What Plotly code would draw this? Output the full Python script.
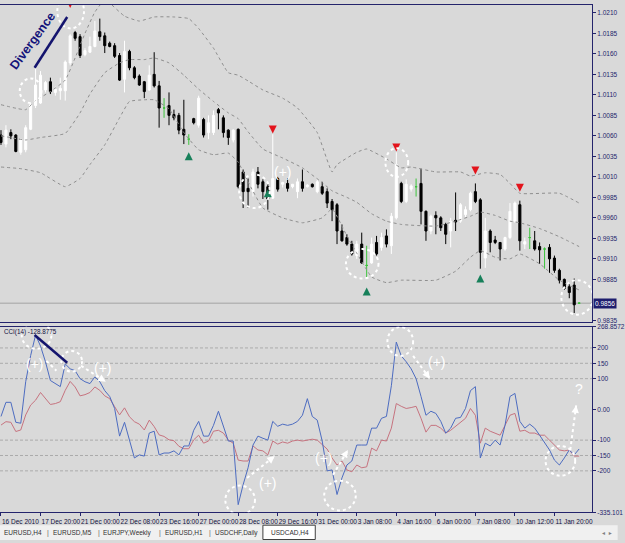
import plotly.graph_objects as go

# ---------------- data ----------------
time_labels = ["16 Dec 2010", "17 Dec 20:00", "21 Dec 00:00", "22 Dec 08:00", "23 Dec 16:00",
               "27 Dec 00:00", "28 Dec 08:00", "29 Dec 16:00", "31 Dec 00:00", "3 Jan 08:00",
               "4 Jan 16:00", "6 Jan 00:00", "7 Jan 08:00", "10 Jan 12:00", "11 Jan 20:00"]
time_label_bars = [0, 8, 16, 24, 32, 40, 48, 56, 64, 72, 80, 88, 96, 104, 112]

opens = [
    1.0061, 1.0050, 1.0064, 1.0061, 1.0040, 1.0043, 1.0068, 1.0097, 1.0100, 1.0116,
    1.0126, 1.0113, 1.0115, 1.0115, 1.0149, 1.0186, 1.0181, 1.0159, 1.0162, 1.0169,
    1.0187, 1.0182, 1.0173, 1.0170, 1.0158, 1.0129, 1.0163, 1.0143, 1.0133, 1.0126,
    1.0116, 1.0135, 1.0121, 1.0094, 1.0097, 1.0086, 1.0085, 1.0068, 1.0056, 1.0081,
    1.0073, 1.0080, 1.0064, 1.0064, 1.0092, 1.0082, 1.0067, 1.0055, 1.0068, 1.0016,
    0.9996, 0.9992, 1.0016, 1.0004, 0.9998, 0.9984, 1.0008, 1.0001, 1.0002, 0.9998,
    0.9992, 1.0004, 0.9998, 1.0001, 0.9992, 0.9998, 0.9992, 0.9980, 0.9976, 0.9944,
    0.9936, 0.9928, 0.9914, 0.9928, 0.9902, 0.9905, 0.9930, 0.9924, 0.9938, 0.9926,
    0.9960, 1.0002, 0.9980, 0.9995, 0.9998, 1.0002, 0.9968, 0.9944, 0.9963, 0.9960,
    0.9952, 0.9944, 0.9957, 0.9956, 0.9964, 0.9970, 0.9992, 0.9982, 0.9911, 0.9944,
    0.9933, 0.9930, 0.9922, 0.9936, 0.9956, 0.9976, 0.9928, 0.9936, 0.9932, 0.9925,
    0.9922, 0.9924, 0.9911, 0.9896, 0.9885, 0.9876, 0.9878, 0.9856]
highs = [
    1.0067, 1.0073, 1.0068, 1.0062, 1.0057, 1.0073, 1.0100, 1.0143, 1.0139, 1.0127,
    1.0131, 1.0120, 1.0131, 1.0152, 1.0184, 1.0188, 1.0184, 1.0167, 1.0181, 1.0200,
    1.0203, 1.0186, 1.0175, 1.0173, 1.0161, 1.0176, 1.0165, 1.0145, 1.0135, 1.0127,
    1.0146, 1.0162, 1.0127, 1.0106, 1.0113, 1.0092, 1.0088, 1.0104, 1.0062, 1.0082,
    1.0109, 1.0082, 1.0085, 1.0091, 1.0094, 1.0085, 1.0068, 1.0068, 1.0069, 1.0019,
    1.0008, 1.0020, 1.0022, 1.0007, 1.0001, 1.0062, 1.0010, 1.0004, 1.0008, 1.0001,
    1.0008, 1.0019, 1.0001, 1.0002, 1.0007, 1.0004, 0.9996, 0.9983, 0.9978, 0.9952,
    0.9940, 0.9932, 0.9932, 0.9942, 0.9926, 0.9936, 0.9938, 0.9942, 0.9946, 0.9966,
    1.0040, 1.0004, 1.0007, 1.0001, 1.0008, 1.0020, 0.9969, 0.9964, 0.9968, 0.9962,
    0.9954, 0.9960, 0.9991, 0.9978, 0.9974, 0.9992, 1.0002, 0.9984, 0.9960, 0.9946,
    0.9938, 0.9930, 0.9937, 0.9978, 0.9980, 0.9981, 0.9936, 0.9948, 0.9944, 0.9930,
    0.9924, 0.9928, 0.9914, 0.9898, 0.9886, 0.9879, 0.9886, 0.9857]
lows = [
    1.0049, 1.0046, 1.0056, 1.0040, 1.0037, 1.0040, 1.0067, 1.0094, 1.0099, 1.0113,
    1.0111, 1.0109, 1.0104, 1.0103, 1.0146, 1.0176, 1.0155, 1.0157, 1.0161, 1.0168,
    1.0176, 1.0161, 1.0168, 1.0155, 1.0127, 1.0113, 1.0140, 1.0129, 1.0121, 1.0106,
    1.0115, 1.0119, 1.0070, 1.0082, 1.0073, 1.0079, 1.0062, 1.0050, 1.0049, 1.0074,
    1.0070, 1.0058, 1.0056, 1.0061, 1.0068, 1.0058, 1.0049, 1.0052, 0.9996, 0.9972,
    0.9972, 0.9986, 0.9996, 0.9983, 0.9970, 0.9983, 0.9992, 0.9997, 0.9992, 0.9996,
    0.9984, 0.9992, 0.9997, 0.9997, 0.9990, 0.9988, 0.9972, 0.9956, 0.9928, 0.9931,
    0.9926, 0.9914, 0.9910, 0.9904, 0.9887, 0.9904, 0.9914, 0.9920, 0.9924, 0.9916,
    0.9958, 0.9978, 0.9978, 0.9992, 0.9986, 0.9952, 0.9932, 0.9940, 0.9940, 0.9944,
    0.9928, 0.9924, 0.9944, 0.9954, 0.9961, 0.9968, 0.9978, 0.9898, 0.9899, 0.9918,
    0.9928, 0.9908, 0.9920, 0.9934, 0.9954, 0.9920, 0.9922, 0.9922, 0.9920, 0.9904,
    0.9898, 0.9893, 0.9893, 0.9880, 0.9872, 0.9862, 0.9844, 0.9855]
closes = [
    1.0052, 1.0067, 1.0060, 1.0041, 1.0055, 1.0070, 1.0098, 1.0122, 1.0134, 1.0125,
    1.0114, 1.0117, 1.0118, 1.0150, 1.0182, 1.0179, 1.0158, 1.0164, 1.0169, 1.0188,
    1.0181, 1.0170, 1.0169, 1.0157, 1.0128, 1.0163, 1.0143, 1.0131, 1.0122, 1.0114,
    1.0134, 1.0121, 1.0094, 1.0094, 1.0085, 1.0082, 1.0067, 1.0061, 1.0056, 1.0076,
    1.0106, 1.0061, 1.0076, 1.0085, 1.0088, 1.0064, 1.0058, 1.0067, 0.9998, 0.9992,
    0.9992, 1.0016, 1.0001, 0.9992, 0.9983, 1.0008, 0.9995, 1.0003, 0.9996, 1.0001,
    1.0004, 0.9996, 1.0000, 0.9998, 1.0004, 0.9990, 0.9978, 0.9970, 0.9944, 0.9932,
    0.9928, 0.9916, 0.9928, 0.9905, 0.9902, 0.9928, 0.9916, 0.9936, 0.9928, 0.9962,
    1.0025, 0.9980, 1.0001, 0.9999, 0.9998, 0.9968, 0.9944, 0.9962, 0.9960, 0.9948,
    0.9940, 0.9956, 0.9955, 0.9976, 0.9970, 0.9990, 0.9980, 0.9918, 0.9944, 0.9930,
    0.9930, 0.9922, 0.9936, 0.9968, 0.9978, 0.9932, 0.9931, 0.9936, 0.9922, 0.9921,
    0.9922, 0.9910, 0.9896, 0.9884, 0.9874, 0.9869, 0.9854, 0.9856]

upper_bars = [0, 5, 7, 10, 13, 15, 17, 19, 21, 22, 25, 28, 31, 35, 38, 40, 43, 46, 48, 50,
              53, 57, 60, 64, 67, 68, 72, 74, 78, 81, 83, 88, 93, 95, 98, 101, 103, 105, 113, 117]
upper_band = [1.0098, 1.0092, 1.0103, 1.0114, 1.0128, 1.0155, 1.0185, 1.0211, 1.0226, 1.0222,
              1.0206, 1.0200, 1.0205, 1.0205, 1.0203, 1.0191, 1.0167, 1.0137, 1.0134, 1.0127,
              1.0116, 1.0106, 1.0094, 1.0064, 1.0016, 1.0025, 1.0040, 1.0044, 1.0032, 1.0021,
              1.0022, 1.0016, 1.0016, 1.0011, 1.0015, 1.0013, 1.0002, 0.9990, 0.9990, 0.9978]
mid_bars = [0, 5, 8, 13, 16, 18, 21, 24, 26, 29, 31, 34, 37, 40, 43, 46, 48, 50, 53, 57,
            61, 65, 67, 70, 72, 75, 78, 81, 88, 92, 95, 97, 100, 103, 105, 109, 113, 117]
mid_band = [1.0060, 1.0055, 1.0058, 1.0063, 1.0088, 1.0111, 1.0137, 1.0149, 1.0153, 1.0153,
            1.0155, 1.0149, 1.0134, 1.0117, 1.0102, 1.0088, 1.0081, 1.0065, 1.0044, 1.0033,
            1.0021, 1.0003, 0.9993, 0.9985, 0.9979, 0.9965, 0.9956, 0.9952, 0.9950, 0.9956,
            0.9962, 0.9967, 0.9963, 0.9956, 0.9954, 0.9947, 0.9937, 0.9925]
lower_bars = [0, 4, 8, 13, 16, 18, 21, 24, 26, 29, 31, 34, 37, 40, 43, 46, 48, 50, 53, 57,
              61, 65, 67, 70, 72, 75, 78, 81, 88, 92, 95, 97, 100, 103, 105, 109, 113, 117]
lower_band = [1.0022, 1.0020, 1.0015, 0.9998, 1.0008, 1.0025, 1.0049, 1.0082, 1.0102, 1.0104,
              1.0104, 1.0093, 1.0064, 1.0043, 1.0037, 1.0039, 1.0028, 1.0004, 0.9972, 0.9960,
              0.9954, 0.9960, 0.9971, 0.9938, 0.9917, 0.9888, 0.9881, 0.9884, 0.9884, 0.9895,
              0.9912, 0.9920, 0.9912, 0.9910, 0.9916, 0.9904, 0.9884, 0.9872]

cci = [
    -23, 23, 23, -42, -45, 90, 175, 242, 206, 155,
    94, 84, 74, 148, 132, 126, 100, 90, 84, 106,
    90, 61, 42, 3, -87, -42, -103, -158, -148, -152,
    -77, -71, -148, -142, -142, -135, -148, -119, -119, -68,
    -39, -87, -87, -52, -6, -52, -103, -103, -310, -245,
    -190, -116, -87, -94, -100, -39, -55, -48, -52, -48,
    -39, -19, 35, -23, -35, -103, -200, -197, -277, -223,
    -181, -168, -116, -116, -116, -61, -61, -29, -23, 77,
    219, 174, 155, 132, 100, 42, -19, -6, -13, -39,
    -77, -61, -29, -26, 3, 61, 74, -158, -110, -119,
    -100, -116, -52, 42, 52, -39, -61, -48, -61, -84,
    -110, -132, -165, -181, -158, -132, -148, -128.8775]
cci_signal = [
    -51, -40, -42, -72, -67, -18, 14, 30, 55, 35,
    16, 19, 25, 62, 91, 73, 44, 48, 55, 73,
    62, 44, 35, 9, -18, 5, -24, -40, -48, -67,
    -35, -56, -83, -88, -99, -102, -120, -128, -128, -99,
    -84, -110, -103, -71, -68, -77, -100, -110, -165, -168,
    -168, -119, -132, -135, -148, -103, -113, -106, -110, -103,
    -100, -103, -100, -97, -100, -116, -129, -158, -181, -168,
    -197, -203, -181, -190, -187, -126, -135, -100, -103, -61,
    19, 10, 3, 6, 10, -29, -74, -52, -52, -61,
    -77, -68, -55, -39, -29, 3, -19, -110, -61, -71,
    -77, -84, -52, -19, -13, -71, -68, -77, -77, -84,
    -84, -100, -116, -132, -135, -132, -152, -152]

sell_arrow_bars = [14, 55, 80, 96, 105]
sell_arrow_prices = [1.0216, 1.0063, 1.0041, 1.0013, 0.9992]
buy_arrow_bars = [38, 54, 74, 97]
buy_arrow_prices = [1.0040, 0.9995, 0.9875, 0.9891]

price_ticks = [1.0210, 1.0185, 1.0160, 1.0135, 1.0110, 1.0085, 1.0060, 1.0035, 1.0010,
               0.9985, 0.9960, 0.9935, 0.9910, 0.9885, 0.9835]
cci_ticks = [268.8572, 200, 150, 100, 0, -100, -150, -200, -335.101]
cci_tick_text = ["268.8572", "200", "150", "100", "0.00", "-100", "-150", "-200", "-335.101"]
cci_levels = [200, 150, 100, -100, -150, -200]
tabs = ["EURUSD,H4", "EURUSD,M5", "EURJPY,Weekly", "EURUSD,H1", "USDCHF,Daily", "USDCAD,H4"]

# ---------------- styling ----------------
W, H = 625, 543
PLOT_W = 599
BG = "#d9d9d9"
NAVY = "#24246c"
FONT = "Liberation Sans, Arial, sans-serif"
WHITE_DASH = dict(color="white", width=2, dash="3px,3px")

def py(px):  # paper y from pixel row
    return 1 - px / H

def pxx(px):  # paper x from pixel column
    return px / PLOT_W

bars = list(range(len(opens)))
is_doji = [o == c for o, c in zip(opens, closes)]

fig = go.Figure()

# Bollinger-style dotted bands
for bx, by in [(upper_bars, upper_band), (mid_bars, mid_band), (lower_bars, lower_band)]:
    fig.add_trace(go.Scatter(x=bx, y=by, mode="lines", xaxis="x", yaxis="y",
                             line=dict(color="#8e8e8e", width=1, dash="dot", shape="spline", smoothing=0.4),
                             hoverinfo="skip", showlegend=False))

def subset(seq, flag):
    return [v if f == flag else None for v, f in zip(seq, is_doji)]

fig.add_trace(go.Candlestick(
    x=bars, open=subset(opens, False), high=subset(highs, False),
    low=subset(lows, False), close=subset(closes, False),
    increasing=dict(line=dict(color="#ffffff", width=1), fillcolor="#ffffff"),
    decreasing=dict(line=dict(color="#000000", width=1), fillcolor="#000000"),
    whiskerwidth=0, hoverinfo="skip", showlegend=False, xaxis="x", yaxis="y"))
fig.add_trace(go.Candlestick(
    x=bars, open=subset(opens, True), high=subset(highs, True),
    low=subset(lows, True), close=subset(closes, True),
    increasing=dict(line=dict(color="#3dc43d", width=1), fillcolor="#3dc43d"),
    decreasing=dict(line=dict(color="#3dc43d", width=1), fillcolor="#3dc43d"),
    whiskerwidth=0, hoverinfo="skip", showlegend=False, xaxis="x", yaxis="y"))

fig.add_trace(go.Scatter(x=sell_arrow_bars, y=sell_arrow_prices, mode="markers",
                         marker=dict(symbol="arrow-down", size=8, color="#e3141c"),
                         hoverinfo="skip", showlegend=False, xaxis="x", yaxis="y"))
fig.add_trace(go.Scatter(x=buy_arrow_bars, y=buy_arrow_prices, mode="markers",
                         marker=dict(symbol="arrow-up", size=8, color="#17805a"),
                         hoverinfo="skip", showlegend=False, xaxis="x", yaxis="y"))

# CCI panel
fig.add_trace(go.Scatter(x=bars, y=cci_signal, mode="lines", line=dict(color="#c6737f", width=1),
                         hoverinfo="skip", showlegend=False, xaxis="x2", yaxis="y2"))
fig.add_trace(go.Scatter(x=bars, y=cci, mode="lines", line=dict(color="#4d6cc0", width=1),
                         hoverinfo="skip", showlegend=False, xaxis="x2", yaxis="y2"))

shapes = []
annotations = []

# current price line
shapes.append(dict(type="line", xref="x domain", yref="y", x0=0, x1=1, y0=closes[-1], y1=closes[-1],
                   line=dict(color="#a3a3a3", width=1), layer="below"))
# CCI levels
for lv in cci_levels:
    shapes.append(dict(type="line", xref="x2 domain", yref="y2", x0=0, x1=1, y0=lv, y1=lv,
                       line=dict(color="#ababab", width=1, dash="3px,2px"), layer="below"))

# hand-drawn annotations (price panel)
for x0, x1, y0, y1 in [(3.8, 8.2, 1.0100, 1.0130), (11.4, 16.8, 1.0191, 1.0233),
                       (48.2, 54.4, 0.9972, 1.0013), (69.8, 76.4, 0.9886, 0.9922),
                       (77.8, 82.4, 1.0010, 1.0045), (113.4, 119.8, 0.9842, 0.9884)]:
    shapes.append(dict(type="circle", xref="x", yref="y", x0=x0, x1=x1, y0=y0, y1=y1, line=WHITE_DASH))
shapes.append(dict(type="line", xref="x", yref="y", x0=6.8, y0=1.0143, x1=13.4, y1=1.0205,
                   line=dict(color="#14146e", width=2.5)))
annotations.append(dict(x=6.4, y=1.01757, xref="x", yref="y", text="<b>Divergence</b>", textangle=-54,
                        xanchor="center", yanchor="middle",
                        showarrow=False, font=dict(family=FONT, size=12.5, color="#14147a")))
annotations.append(dict(x=57, y=1.0016, xref="x", yref="y", text="(+)", showarrow=False,
                        xanchor="center", yanchor="middle",
                        font=dict(family=FONT, size=14, color="white")))

# hand-drawn annotations (CCI panel)
for x0, x1, y0, y1 in [(4.2, 10.2, 197, 284), (12.2, 16.4, 123, 190), (45.4, 51.4, -342, -248),
                       (65.4, 71.8, -329, -232), (78.2, 83.4, 174, 268), (110.2, 116.2, -216, -119)]:
    shapes.append(dict(type="circle", xref="x2", yref="y2", x0=x0, x1=x1, y0=y0, y1=y1, line=WHITE_DASH))
shapes.append(dict(type="line", xref="x2", yref="y2", x0=6.8, y0=242, x1=13.4, y1=152,
                   line=dict(color="#14146e", width=2.5)))
for tx, ty, t in [(6.8, 147, "(+)"), (20.6, 135, "(+)"), (54, -239, "(+)"), (65.4, -158, "(+)"),
                  (88.2, 155, "(+)"), (117, 68, "?")]:
    annotations.append(dict(x=tx, y=ty, xref="x2", yref="y2", text=t, showarrow=False,
                            xanchor="center", yanchor="middle",
                            font=dict(family=FONT, size=14, color="white")))
for xs, ys, xe, ye in [(9.2, 158, 11.2, 126), (16.2, 142, 21.2, 90), (49.8, -223, 55.4, -152),
                       (67.2, -213, 70.2, -132), (83.4, 174, 86.8, 100), (115.2, -132, 116.4, 13)]:
    shapes.append(dict(type="line", xref="x2", yref="y2", x0=xs, y0=ys, x1=xe, y1=ye, line=WHITE_DASH))
    annotations.append(dict(x=xe, y=ye, ax=xe - (xe - xs) * 0.2, ay=ye - (ye - ys) * 0.2,
                            xref="x2", yref="y2", axref="x2", ayref="y2", text="", showarrow=True,
                            arrowhead=2, arrowsize=1, arrowwidth=1.5, arrowcolor="white"))

annotations.append(dict(x=pxx(2), y=py(332), xref="paper", yref="paper", xanchor="left",
                        yanchor="middle", text="CCI(14) -128.8775", showarrow=False,
                        font=dict(family=FONT, size=6.3, color="#101040")))
# highlighted last price on axis
annotations.append(dict(x=pxx(600), y=closes[-1], xref="paper", yref="y", xanchor="left",
                        yanchor="middle", text=f"{closes[-1]:.4f}", showarrow=False,
                        bgcolor="#1e1e6e", borderpad=1,
                        font=dict(family=FONT, size=6.5, color="white")))

# bottom tab bar
shapes.append(dict(type="rect", xref="paper", yref="paper", x0=0, x1=W / PLOT_W, y0=0, y1=py(528),
                   fillcolor="#f0f0f0", line=dict(width=0), layer="below"))
shapes.append(dict(type="rect", xref="paper", yref="paper", x0=pxx(266), x1=pxx(319), y0=py(542.5),
                   y1=py(528), fillcolor="#ffffff", line=dict(color="#404040", width=1)))
tab_centers = [23, 73, 129, 186, 239, 293]
for t, cx in zip(tabs, tab_centers):
    annotations.append(dict(x=pxx(cx), y=py(535.5), xref="paper", yref="paper", text=t,
                            xanchor="center", yanchor="middle",
                            showarrow=False, font=dict(family=FONT, size=6.5, color="#303030")))
for sx in [49, 100, 162, 212]:
    annotations.append(dict(x=pxx(sx), y=py(535.5), xref="paper", yref="paper", text="|",
                            xanchor="center", yanchor="middle",
                            showarrow=False, font=dict(family=FONT, size=7, color="#606060")))
annotations.append(dict(x=pxx(614), y=py(535.5), xref="paper", yref="paper", text="◂  ▸",
                        xanchor="center", yanchor="middle",
                        showarrow=False, font=dict(family="DejaVu Sans", size=6, color="#808080")))

axis_common = dict(showgrid=False, zeroline=False, linecolor=NAVY, linewidth=1, showline=True)
fig.update_layout(
    width=W, height=H, margin=dict(l=0, r=W - PLOT_W, t=0, b=0),
    paper_bgcolor=BG, plot_bgcolor=BG, showlegend=False, boxgap=0.4,
    font=dict(family=FONT, size=6.5, color=NAVY),
    xaxis=dict(domain=[0, 1], anchor="y", range=[-0.2, 119.6], showticklabels=False, ticks="",
               mirror=True, rangeslider=dict(visible=False), **axis_common),
    yaxis=dict(domain=[py(322), py(1)], anchor="x", side="right", range=[0.98332, 1.02196],
               tickvals=price_ticks, ticktext=[f"{v:.4f}" for v in price_ticks],
               ticks="outside", ticklen=3, tickcolor=NAVY,
               tickfont=dict(family=FONT, size=6.5, color=NAVY), **axis_common),
    xaxis2=dict(domain=[0, 1], anchor="y2", range=[-0.2, 119.6], tickvals=time_label_bars,
                ticktext=time_labels, ticks="outside", ticklen=3, tickcolor=NAVY, tickangle=0,
                ticklabelposition="outside right", ticklabelstandoff=3, mirror=True,
                tickfont=dict(family=FONT, size=6.5, color="#101040"),
                rangeslider=dict(visible=False), **axis_common),
    yaxis2=dict(domain=[py(515), py(327)], anchor="x2", side="right", range=[-335.101, 268.8572],
                tickvals=cci_ticks, ticktext=cci_tick_text, ticks="outside", ticklen=3,
                tickcolor=NAVY, tickfont=dict(family=FONT, size=6.5, color=NAVY), **axis_common),
    shapes=shapes, annotations=annotations,
)

fig.write_html("out.html")
